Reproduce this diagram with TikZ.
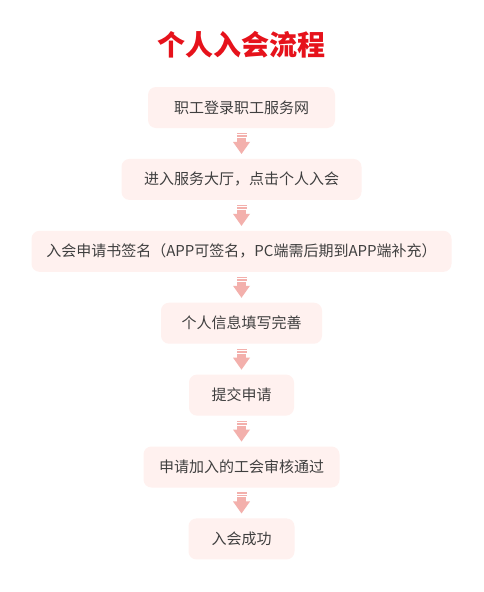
\documentclass[tikz,border=0pt]{standalone}
\usepackage{fontspec}
\setmainfont{Noto Sans CJK SC}
\usetikzlibrary{positioning,calc}
\definecolor{boxpink}{HTML}{FFF1EF}
\definecolor{arrowpink}{HTML}{F3B0AC}
\definecolor{titlered}{HTML}{E6121B}
\definecolor{textgray}{HTML}{3F3F3F}

\begin{document}
\begin{tikzpicture}[
  x=1pt, y=-1pt,
  stepbox/.style={
    fill=boxpink, rounded corners=8pt,
    minimum height=41pt, inner xsep=8pt,
    font=\fontsize{15pt}{18pt}\selectfont, text=textgray
  },
  titletext/.style={
    font=\fontsize{28pt}{32pt}\selectfont\bfseries, text=titlered
  },
  downarrow/.pic={
    \fill[arrowpink] (-5,-10.5) rectangle (5,-9);
    \fill[arrowpink] (-5,-8) rectangle (5,-6.5);
    \fill[arrowpink] (-4.5,-5.5) rectangle (4.5,-1.4);
    \fill[arrowpink] (-8.5,-1.5) -- (8.5,-1.5) -- (0,10.5) -- cycle;
  }
]

\fill[white] (0,0) rectangle (484,592);
\useasboundingbox (0,0) rectangle (484,592);

% --- Tytul ---
\node[titletext] (title) at (241,45) {个人入会流程};

% --- Kroki ---
\node[stepbox, minimum width=187pt] (s1) at (241.5,107.5) {职工登录职工服务网};
\node[stepbox, minimum width=240pt, below=30.5pt of s1] (s2) {进入服务大厅，点击个人入会};
\node[stepbox, minimum width=420pt, below=30.5pt of s2] (s3) {入会申请书签名（APP可签名，PC端需后期到APP端补充）};
\node[stepbox, minimum width=161pt, below=30.5pt of s3] (s4) {个人信息填写完善};
\node[stepbox, minimum width=105pt, below=30.5pt of s4] (s5) {提交申请};
\node[stepbox, minimum width=196pt, below=30.5pt of s5] (s6) {申请加入的工会审核通过};
\node[stepbox, minimum width=106pt, below=30.5pt of s6] (s7) {入会成功};

% --- Strzalki ---
\foreach \a/\b in {s1/s2, s2/s3, s3/s4, s4/s5, s5/s6, s6/s7}
  \pic at ($(\a.south)!.5!(\b.north)$) {downarrow};

\end{tikzpicture}
\end{document}
